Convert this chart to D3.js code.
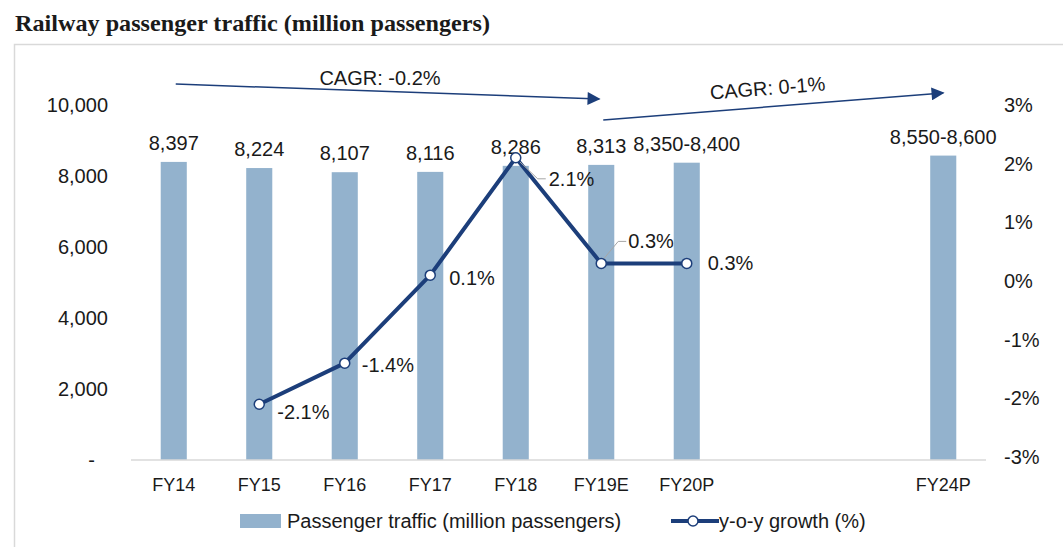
<!DOCTYPE html>
<html>
<head>
<meta charset="utf-8">
<script src="https://cdn.jsdelivr.net/npm/d3@7"></script>
<style>
  body { margin: 0; background: #fff; }
  text { font-family: "Liberation Sans", Arial, sans-serif; fill: #1a1a1a; }
</style>
</head>
<body>
<svg id="drawing_region"></svg>
<script>
// categories (two empty slots between FY20P and FY24P)
const categories = ["FY14", "FY15", "FY16", "FY17", "FY18", "FY19E", "FY20P", "gap1", "gap2", "FY24P"];
const trafficCats = ["FY14", "FY15", "FY16", "FY17", "FY18", "FY19E", "FY20P", "FY24P"];
const trafficValues = [8397, 8224, 8107, 8116, 8286, 8313, 8375, 8575];
const trafficLabels = ["8,397", "8,224", "8,107", "8,116", "8,286", "8,313", "8,350-8,400", "8,550-8,600"];
const growthCats = ["FY15", "FY16", "FY17", "FY18", "FY19E", "FY20P"];
const growthValues = [-2.1, -1.4, 0.1, 2.1, 0.3, 0.3];
const growthLabels = ["-2.1%", "-1.4%", "0.1%", "2.1%", "0.3%", "0.3%"];
const leftTicks = [0, 2000, 4000, 6000, 8000, 10000];
const rightTicks = [-3, -2, -1, 0, 1, 2, 3];
// CAGR arrows: [from category, from value, to category, to value] in left-axis units
const cagrArrows = [
    { label: "CAGR: -0.2%", from: ["FY14", 10590], to: ["FY19E", 10170] },
    { label: "CAGR: 0-1%", from: ["FY19E", 9580], to: ["FY24P", 10340] }
];

const config = {
    width: 1063,
    height: 547,
    plot: { left: 131, right: 986, top: 105, bottom: 460 },
    barColor: "#93b2cd",
    lineColor: "#1c3e7a",
    fontSize: "20px",
    title: "Railway passenger traffic (million passengers)"
};

const svg = d3.select("#drawing_region")
    .attr("width", config.width)
    .attr("height", config.height);

// frame
svg.append("rect")
    .attr("x", 14.5).attr("y", 44.5)
    .attr("width", 1070).attr("height", 520)
    .attr("fill", "none")
    .attr("stroke", "#d9d9d9")
    .attr("stroke-width", 1.5);

// title
svg.append("text")
    .attr("x", 15).attr("y", 31)
    .style("font-family", "'Liberation Serif', 'Times New Roman', serif")
    .attr("font-weight", "bold")
    .attr("font-size", "23px")
    .attr("textLength", 475)
    .attr("lengthAdjust", "spacingAndGlyphs")
    .text(config.title);

const xscale = d3.scaleBand()
    .domain(categories)
    .range([config.plot.left, config.plot.right])
    .paddingInner(0.695)
    .paddingOuter(0.3475);

const yLeft = d3.scaleLinear()
    .domain([0, 10000])
    .range([config.plot.bottom, config.plot.top]);

const yRight = d3.scaleLinear()
    .domain([-3, 3])
    .range([457, 105]);

const cx = c => xscale(c) + xscale.bandwidth() / 2;

// bars
svg.append("g").selectAll("rect")
    .data(trafficCats)
    .join("rect")
    .attr("x", d => xscale(d))
    .attr("width", xscale.bandwidth())
    .attr("y", (d, i) => yLeft(trafficValues[i]))
    .attr("height", (d, i) => yLeft(0) - yLeft(trafficValues[i]))
    .attr("fill", config.barColor);

// bar labels
svg.append("g").selectAll("text")
    .data(trafficCats)
    .join("text")
    .attr("x", d => cx(d))
    .attr("y", (d, i) => yLeft(trafficValues[i]) - 12)
    .attr("text-anchor", "middle")
    .attr("font-size", config.fontSize)
    .text((d, i) => trafficLabels[i]);

// baseline
svg.append("line")
    .attr("x1", config.plot.left).attr("x2", config.plot.right)
    .attr("y1", yLeft(0)).attr("y2", yLeft(0))
    .attr("stroke", "#d9d9d9")
    .attr("stroke-width", 1.5);

// left axis
const leftAxis = svg.append("g")
    .attr("transform", "translate(108,0)")
    .call(d3.axisLeft(yLeft).tickValues(leftTicks).tickSize(0).tickPadding(0)
        .tickFormat(d => d === 0 ? "-" : d3.format(",")(d)));
leftAxis.select(".domain").remove();
leftAxis.selectAll("text")
    .attr("font-size", config.fontSize)
    .attr("fill", "#1a1a1a")
    .style("font-family", "'Liberation Sans', Arial, sans-serif")
    .attr("dx", d => d === 0 ? -13 : 0);

// right axis
const rightAxis = svg.append("g")
    .attr("transform", "translate(1004,0)")
    .call(d3.axisRight(yRight).tickValues(rightTicks).tickSize(0).tickPadding(0)
        .tickFormat(d => d + "%"));
rightAxis.select(".domain").remove();
rightAxis.selectAll("text")
    .attr("font-size", config.fontSize)
    .attr("fill", "#1a1a1a")
    .style("font-family", "'Liberation Sans', Arial, sans-serif");

// x axis
const xAxis = svg.append("g")
    .attr("transform", `translate(0,${yLeft(0)})`)
    .call(d3.axisBottom(xscale).tickSize(0).tickPadding(18)
        .tickFormat(d => d.startsWith("gap") ? "" : d));
xAxis.select(".domain").remove();
xAxis.selectAll("text")
    .attr("font-size", "18px")
    .attr("fill", "#1a1a1a")
    .style("font-family", "'Liberation Sans', Arial, sans-serif");

// growth line
const line = d3.line()
    .x(d => cx(d))
    .y((d, i) => yRight(growthValues[i]));

svg.append("path")
    .datum(growthCats)
    .attr("d", line)
    .attr("fill", "none")
    .attr("stroke", config.lineColor)
    .attr("stroke-width", 4)
    .attr("stroke-linejoin", "round");

// leader lines for FY18 and FY19E labels
svg.append("polyline")
    .attr("points", [[cx("FY18") + 4, yRight(2.1) + 4], [cx("FY18") + 22, yRight(2.1) + 21], [cx("FY18") + 30, yRight(2.1) + 21]].join(" "))
    .attr("fill", "none").attr("stroke", "#a6a6a6").attr("stroke-width", 1);
svg.append("polyline")
    .attr("points", [[cx("FY19E") + 2, yRight(0.3) - 4], [cx("FY19E") + 17, yRight(0.3) - 22], [cx("FY19E") + 25, yRight(0.3) - 22]].join(" "))
    .attr("fill", "none").attr("stroke", "#a6a6a6").attr("stroke-width", 1);

svg.append("g").selectAll("circle")
    .data(growthCats)
    .join("circle")
    .attr("cx", d => cx(d))
    .attr("cy", (d, i) => yRight(growthValues[i]))
    .attr("r", 5)
    .attr("fill", "#fff")
    .attr("stroke", config.lineColor)
    .attr("stroke-width", 1.5);

// growth labels: offsets relative to marker
const labelOffset = [[18, 15], [17, 9], [19, 10], [33, 28], [27, -15], [21, 7]];
svg.append("g").selectAll("text")
    .data(growthCats)
    .join("text")
    .attr("x", (d, i) => cx(d) + labelOffset[i][0])
    .attr("y", (d, i) => yRight(growthValues[i]) + labelOffset[i][1])
    .attr("font-size", config.fontSize)
    .text((d, i) => growthLabels[i]);

// CAGR arrows
svg.append("defs").append("marker")
    .attr("id", "arrow")
    .attr("viewBox", "0 0 10 10")
    .attr("refX", 9).attr("refY", 5)
    .attr("markerWidth", 15).attr("markerHeight", 13)
    .attr("markerUnits", "userSpaceOnUse")
    .attr("orient", "auto")
    .append("path")
    .attr("d", "M0,0 L10,5 L0,10 Z")
    .attr("fill", config.lineColor);

cagrArrows.forEach((a, k) => {
    const x1 = cx(a.from[0]) + 2, y1 = yLeft(a.from[1]);
    const x2 = cx(a.to[0]) + (k === 0 ? -2 : 0), y2 = yLeft(a.to[1]);
    svg.append("line")
        .attr("x1", x1).attr("y1", y1)
        .attr("x2", x2).attr("y2", y2)
        .attr("stroke", config.lineColor)
        .attr("stroke-width", 1.5)
        .attr("marker-end", "url(#arrow)");
    const angle = Math.atan2(y2 - y1, x2 - x1) * 180 / Math.PI;
    const mx = k === 0 ? 380 : 768;
    const my = k === 0 ? 85 : 95;
    svg.append("text")
        .attr("transform", `translate(${mx},${my}) rotate(${k === 0 ? 0 : angle})`)
        .attr("text-anchor", "middle")
        .attr("font-size", config.fontSize)
        .text(a.label);
});

// legend
const legend = svg.append("g").attr("transform", "translate(240,521)");
legend.append("rect")
    .attr("x", 0).attr("y", -7)
    .attr("width", 41).attr("height", 14)
    .attr("fill", config.barColor);
legend.append("text")
    .attr("x", 47).attr("y", 7)
    .attr("font-size", config.fontSize)
    .text("Passenger traffic (million passengers)");
legend.append("line")
    .attr("x1", 431).attr("x2", 479)
    .attr("y1", 0).attr("y2", 0)
    .attr("stroke", config.lineColor)
    .attr("stroke-width", 4);
legend.append("circle")
    .attr("cx", 453).attr("cy", 0).attr("r", 5)
    .attr("fill", "#fff")
    .attr("stroke", config.lineColor)
    .attr("stroke-width", 1.5);
legend.append("text")
    .attr("x", 479).attr("y", 7)
    .attr("font-size", config.fontSize)
    .text("y-o-y growth (%)");
</script>
</body>
</html>
